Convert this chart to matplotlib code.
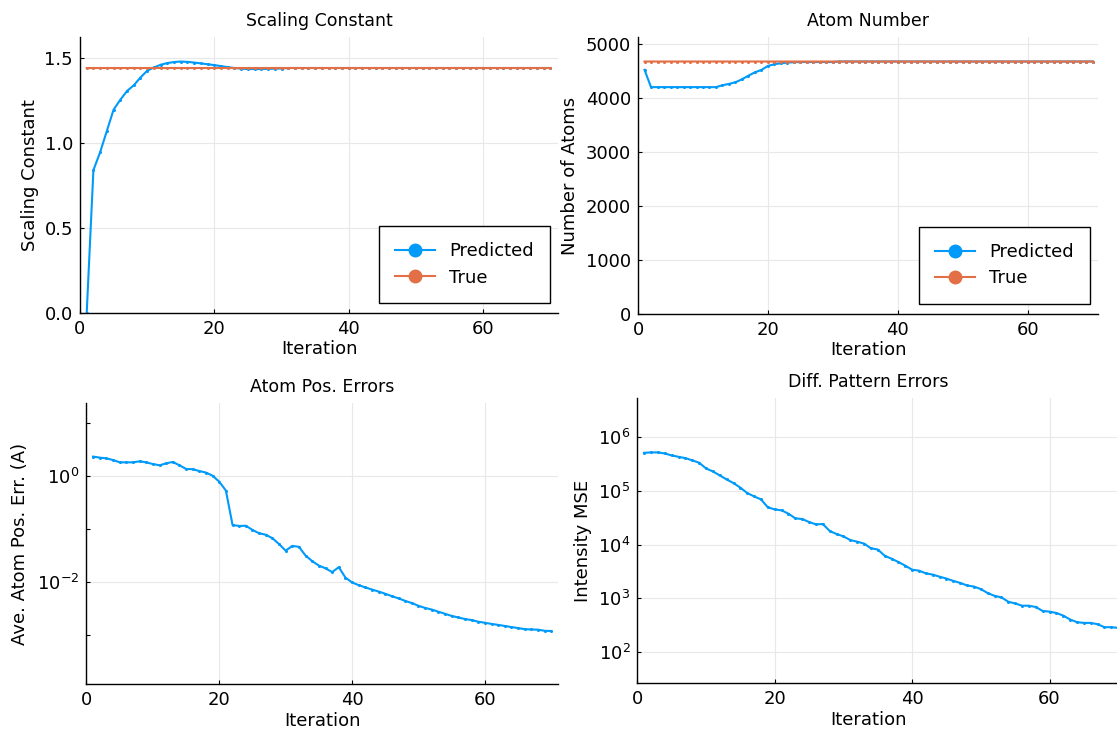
import matplotlib
matplotlib.use("Agg")
import matplotlib.pyplot as plt
from matplotlib.lines import Line2D
import numpy as np

BLUE = "#009AFA"
ORANGE = "#E26F46"
GRID = "#e8e8e8"

iterations = np.arange(1, 71)

scale_pred = [
    0.0, 0.84, 0.945, 1.07, 1.195, 1.253, 1.305, 1.338, 1.384, 1.424,
    1.443, 1.459, 1.469, 1.475, 1.478, 1.476, 1.472, 1.467, 1.462, 1.457,
    1.451, 1.445, 1.440, 1.436, 1.434, 1.434, 1.434, 1.435, 1.436, 1.437,
    1.44, 1.44, 1.44, 1.44, 1.44, 1.44, 1.44, 1.44, 1.44, 1.44,
    1.44, 1.44, 1.44, 1.44, 1.44, 1.44, 1.44, 1.44, 1.44, 1.44,
    1.44, 1.44, 1.44, 1.44, 1.44, 1.44, 1.44, 1.44, 1.44, 1.44,
    1.44, 1.44, 1.44, 1.44, 1.44, 1.44, 1.44, 1.44, 1.44, 1.44,
]
scale_true = [1.44] * 70

atoms_pred = [
    4525, 4205, 4205, 4205, 4205, 4205, 4205, 4205, 4205, 4205,
    4205, 4205, 4240, 4265, 4296, 4350, 4418, 4480, 4525, 4598,
    4630, 4648, 4660, 4667, 4670, 4670, 4670, 4670, 4670, 4670,
    4680, 4680, 4680, 4680, 4680, 4680, 4680, 4680, 4680, 4680,
    4680, 4680, 4680, 4680, 4680, 4680, 4680, 4680, 4680, 4680,
    4680, 4680, 4680, 4680, 4680, 4680, 4680, 4680, 4680, 4680,
    4680, 4680, 4680, 4680, 4680, 4680, 4680, 4680, 4680, 4680,
]
atoms_true = [4680] * 70

pos_err = [
    2.32, 2.22, 2.15, 2.0, 1.81, 1.81, 1.81, 1.89, 1.81, 1.68,
    1.59, 1.73, 1.84, 1.59, 1.36, 1.34, 1.24, 1.16, 1.01, 0.78,
    0.53, 0.119, 0.114, 0.115, 0.096, 0.083, 0.078, 0.067, 0.052, 0.039,
    0.048, 0.046, 0.0315, 0.0247, 0.0204, 0.0181, 0.0154, 0.019, 0.0121, 0.0098,
    0.0087, 0.0079, 0.0072, 0.0066, 0.0060, 0.0054, 0.0049, 0.0044, 0.0040, 0.00355,
    0.00324, 0.00302, 0.00275, 0.00251, 0.00229, 0.00214, 0.00200, 0.00191, 0.00178, 0.00170,
    0.00162, 0.00155, 0.00148, 0.00141, 0.00135, 0.00129, 0.00127, 0.00126, 0.00120, 0.00119,
]

pattern_mse = [
    516000, 524000, 524000, 501000, 460000, 434000, 410000, 372000, 336000, 263000,
    231000, 195000, 164000, 140000, 115000, 91200, 79100, 69500, 49300, 45300,
    43400, 37600, 30800, 29900, 26300, 23800, 24100, 17900, 15700, 14200,
    12100, 11300, 10400, 8490, 8070, 6170, 5430, 4710, 4030, 3390,
    3250, 2900, 2740, 2510, 2310, 2090, 1920, 1720, 1640, 1470,
    1240, 1100, 1030, 855, 794, 721, 721, 681, 575, 558,
    527, 471, 398, 355, 344, 344, 325, 286, 286, 278,
]

FS = 13


def style_axes(ax, title, ylabel, ylab_x, title_x=0.5):
    for side in ("top", "right"):
        ax.spines[side].set_visible(False)
    for side in ("left", "bottom"):
        ax.spines[side].set_linewidth(1.0)
    ax.grid(True, color=GRID, linewidth=0.8)
    ax.set_axisbelow(True)
    ax.tick_params(direction="in", length=3, width=0.8, labelsize=FS, pad=5)
    ax.tick_params(which="minor", direction="in", length=3, width=0.8)
    ax.set_title(title, fontsize=12.5, pad=8, x=title_x)
    ax.set_xlabel("Iteration", fontsize=FS)
    ax.xaxis.set_label_coords(title_x, -0.098)
    ax.set_ylabel(ylabel, fontsize=FS)
    ax.yaxis.set_label_coords(ylab_x, 0.5)
    ax.set_xticks([0, 20, 40, 60])


def add_legend(ax):
    handles = [
        Line2D([], [], color=BLUE, lw=1.5, marker="o", markersize=9),
        Line2D([], [], color=ORANGE, lw=1.5, marker="o", markersize=9),
    ]
    leg = ax.legend(handles, ["Predicted", "True"], loc="lower right",
                    bbox_to_anchor=(0.983, 0.037), borderaxespad=0,
                    fontsize=FS, fancybox=False, framealpha=1,
                    edgecolor="black", handlelength=2.2, handletextpad=0.8,
                    borderpad=0.9, labelspacing=0.45)
    leg.get_frame().set_linewidth(1.0)


def series(ax, y, color):
    ax.plot(iterations, y, color=color, lw=1.5, marker="o",
            markersize=2.2, markeredgewidth=0, snap=False)


fig = plt.figure(figsize=(11.17, 7.29), dpi=100)

# Scaling constant
ax1 = fig.add_axes([0.0716, 0.5706, 0.428, 0.3786])
series(ax1, scale_pred, BLUE)
series(ax1, scale_true, ORANGE)
ax1.set_xlim(0, 71.16)
ax1.set_ylim(0, 1.622)
ax1.set_yticks([0.0, 0.5, 1.0, 1.5])
ax1.set_yticklabels(["0.0", "0.5", "1.0", "1.5"])
style_axes(ax1, "Scaling Constant", "Scaling Constant", -0.086)
add_legend(ax1)

# Atom number
ax2 = fig.add_axes([0.5712, 0.5693, 0.4118, 0.38])
series(ax2, atoms_pred, BLUE)
series(ax2, atoms_true, ORANGE)
ax2.set_xlim(0, 70.8)
ax2.set_ylim(0, 5135)
ax2.set_yticks([0, 1000, 2000, 3000, 4000, 5000])
style_axes(ax2, "Atom Number", "Number of Atoms", -0.128)
add_legend(ax2)

# Atom position errors
ax3 = fig.add_axes([0.0774, 0.0617, 0.4221, 0.3855])
series(ax3, pos_err, BLUE)
ax3.set_yscale("log")
ax3.set_xlim(0, 71.0)
ax3.set_ylim(10 ** -3.925, 10 ** 1.377)
ax3.set_yticks([1e-2, 1e0])
ax3.set_yticks([1e-3, 1e-1, 1e1], minor=True)
ax3.yaxis.set_minor_formatter(matplotlib.ticker.NullFormatter())
style_axes(ax3, "Atom Pos. Errors", "Ave. Atom Pos. Err. (A)", -0.122)

# Diffraction pattern errors
ax4 = fig.add_axes([0.5706, 0.0635, 0.4348, 0.390])
series(ax4, pattern_mse, BLUE)
ax4.set_yscale("log")
ax4.set_xlim(0, 70.7)
ax4.set_ylim(10 ** 1.42, 10 ** 6.728)
ax4.set_yticks([1e2, 1e3, 1e4, 1e5, 1e6])
ax4.yaxis.set_minor_locator(matplotlib.ticker.NullLocator())
style_axes(ax4, "Diff. Pattern Errors", "Intensity MSE", -0.093, title_x=0.476)

fig.savefig("out.png", dpi=100)
